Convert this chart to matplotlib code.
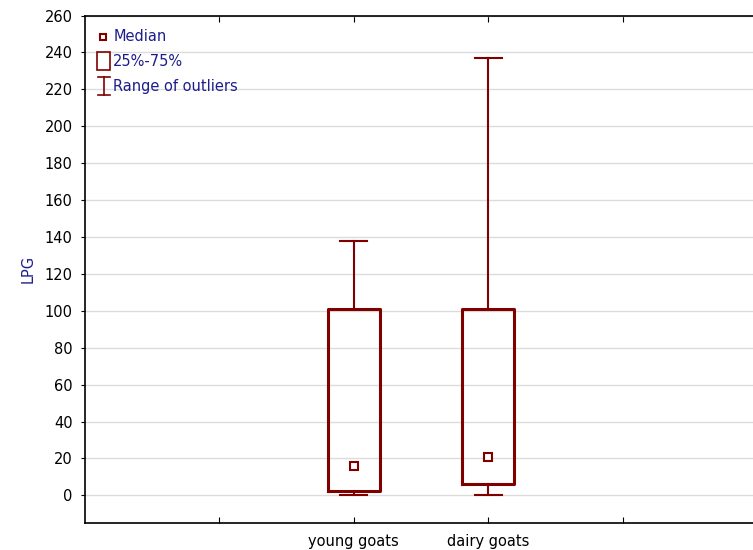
import matplotlib.pyplot as plt
from matplotlib.patches import Rectangle
from matplotlib.lines import Line2D

# Box plot data (LPG)
groups = ['young goats', 'dairy goats']
positions = [2, 3]
medians = [16, 20.5]
q1 = [2.5, 6]
q3 = [101, 101]
lows = [0, 0]
highs = [138, 237]

y_ticks = list(range(0, 261, 20))

dark_red = '#800000'
blue = '#1c1c8c'
fs = 10.5

plt.rcParams['font.family'] = ['DejaVu Sans']

fig = plt.figure(figsize=(7.53, 5.5), dpi=100)
ax = fig.add_axes([85 / 753, 27 / 550, 672 / 753, 507.5 / 550])

stats = []
for i in range(len(groups)):
    stats.append({'med': medians[i], 'q1': q1[i], 'q3': q3[i],
                  'whislo': lows[i], 'whishi': highs[i], 'fliers': []})

ax.bxp(stats, positions=positions, widths=0.39, showfliers=False,
       boxprops=dict(color=dark_red, linewidth=2.2),
       whiskerprops=dict(color=dark_red, linewidth=1.5),
       capprops=dict(color=dark_red, linewidth=1.5),
       medianprops=dict(linestyle='none'),
       capwidths=0.2, manage_ticks=False, zorder=3)
ax.plot(positions, medians, 's', markersize=5.5, markerfacecolor='white',
        markeredgecolor=dark_red, markeredgewidth=1.5, linestyle='none', zorder=4)

ax.set_xlim(0, 5)
ax.set_ylim(-15, 260)
ax.set_yticks(y_ticks)
ax.set_xticks([1, 2, 3, 4])
ax.set_xticklabels(['', groups[0], groups[1], ''])
ax.tick_params(axis='x', direction='in', top=True, length=4, labelsize=fs, pad=8)
ax.tick_params(axis='y', direction='out', length=3, labelsize=fs, pad=6)
ax.grid(axis='y', color='#dcdcdc', linewidth=1)
ax.set_axisbelow(True)
for s in ax.spines.values():
    s.set_linewidth(1.2)
ax.set_ylabel('LPG', color=blue, fontsize=fs, labelpad=6)

# legend drawn by hand
t = ax.transAxes
ax.add_line(Line2D([0.027], [0.958], marker='s', markersize=5, markerfacecolor='white',
                   markeredgecolor=dark_red, markeredgewidth=1.5, transform=t))
ax.text(0.042, 0.958, 'Median', color=blue, fontsize=fs, va='center', transform=t)
ax.add_patch(Rectangle((0.018, 0.893), 0.019, 0.035, fill=False, edgecolor=dark_red,
                       linewidth=1.2, transform=t, clip_on=False))
ax.text(0.042, 0.910, '25%-75%', color=blue, fontsize=fs, va='center', transform=t)
ax.add_line(Line2D([0.028, 0.028], [0.843, 0.879], color=dark_red, linewidth=1.2, transform=t))
ax.add_line(Line2D([0.019, 0.037], [0.879, 0.879], color=dark_red, linewidth=1.2, transform=t))
ax.add_line(Line2D([0.019, 0.037], [0.843, 0.843], color=dark_red, linewidth=1.2, transform=t))
ax.text(0.042, 0.861, 'Range of outliers', color=blue, fontsize=fs, va='center', transform=t)

fig.savefig('out.png', dpi=100)
